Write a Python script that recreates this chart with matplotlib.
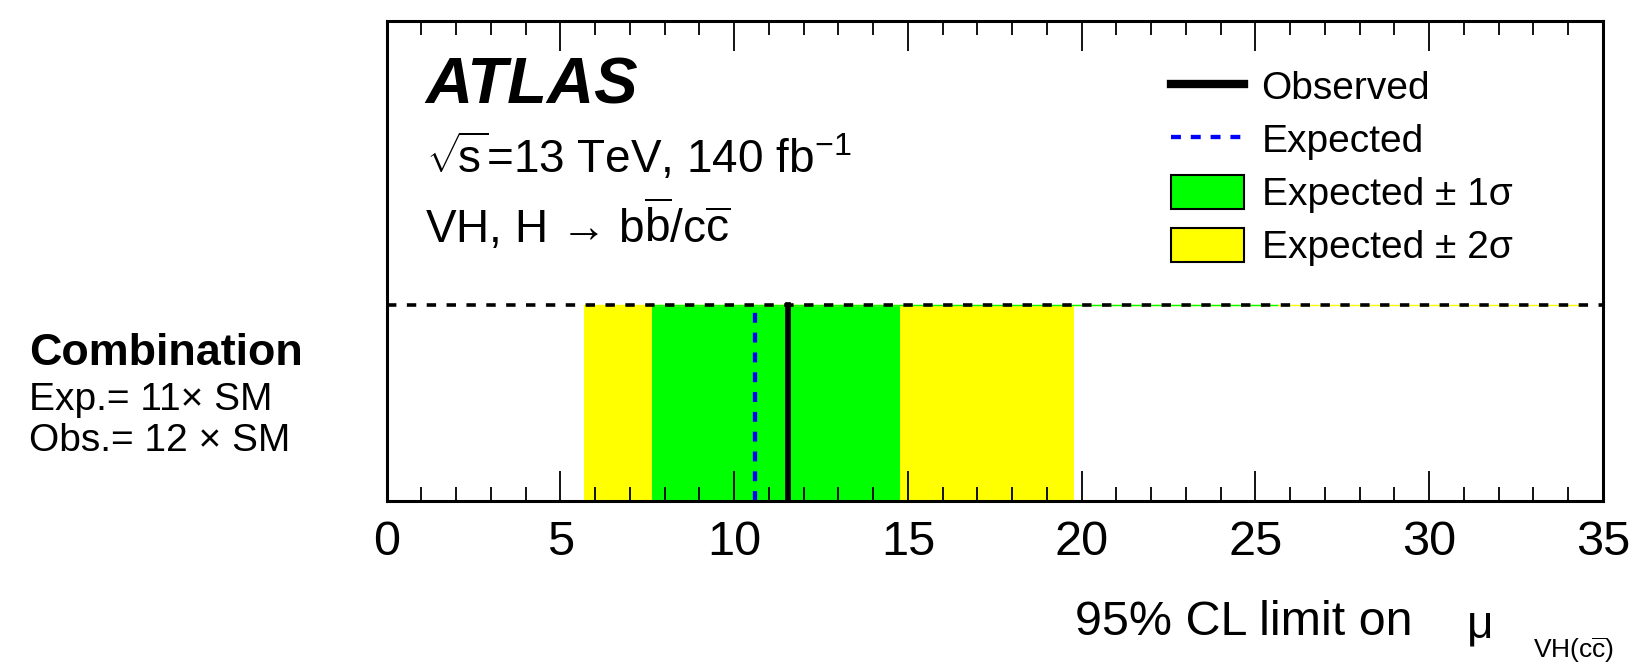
import matplotlib
matplotlib.use("Agg")
import matplotlib.pyplot as plt
from matplotlib import font_manager
from matplotlib.ticker import MultipleLocator

# 95% CL limits on mu_VH(cc)
obs_limit = 11.55
exp_limit = 10.60
band_1sigma = [7.63, 14.76]
band_2sigma = [5.68, 19.77]
# band edges that leak along the y=1 line in the original
edge_1sigma = [7.63, 25.62]
edge_2sigma = [5.68, 34.34]

xticks = [0, 5, 10, 15, 20, 25, 30, 35]
labels = ["Observed", "Expected", "Expected ± 1σ", "Expected ± 2σ"]
exp_text = "Exp.= 11× SM"
obs_text = "Obs.= 12 × SM"

W, H = 1630, 667
plt.rcParams["font.family"] = ["Liberation Sans", "DejaVu Sans"]
plt.rcParams["mathtext.fontset"] = "custom"
plt.rcParams["mathtext.rm"] = "Liberation Sans"
plt.rcParams["mathtext.it"] = "Liberation Sans:italic"
plt.rcParams["mathtext.bf"] = "Liberation Sans:bold"

# narrow face for the squeezed subscript, if it is there
try:
    font_manager.findfont("Liberation Sans Narrow", fallback_to_default=False)
    sub_family, sub_size = "Liberation Sans Narrow", 24
except Exception:
    sub_family, sub_size = "Liberation Sans", 19


def px(x, y):
    # pixel position -> figure fraction
    return x / W, 1 - y / H


fig = plt.figure(figsize=(W / 100, H / 100), dpi=100)
ax = fig.add_axes([386.7 / W, 1 - 501 / H, (1603 - 386.7) / W, (501 - 20.7) / H])

yel = ax.fill_betweenx([0, 1], band_2sigma[0], band_2sigma[1], color="#ffff00", lw=0)
grn = ax.fill_betweenx([0, 1], band_1sigma[0], band_1sigma[1], color="#00ff00", lw=0)
ax.plot(edge_2sigma, [1, 1], color="#ffff00", lw=1.0)
ax.plot(edge_1sigma, [1, 1], color="#00ff00", lw=1.0)
ax.axhline(1, color="black", lw=2.6, ls=(0, (2.6, 2.9)))
exp_line, = ax.plot([exp_limit, exp_limit], [0, 1], color="#0000ff", lw=3.1, ls=(0, (2.3, 2.3)))
obs_line, = ax.plot([obs_limit, obs_limit], [0, 1], color="black", lw=4.1)

ax.set_xlim(0, 35)
ax.set_ylim(0, 2.45)
ax.set_xticks(xticks)
ax.xaxis.set_minor_locator(MultipleLocator(1))
ax.tick_params(axis="x", which="both", direction="in", top=True, labelsize=35, pad=13.5)
ax.tick_params(axis="x", which="major", length=21.6, width=1.3)
ax.tick_params(axis="x", which="minor", length=10, width=1.3)
ax.tick_params(axis="y", left=False, labelleft=False)
for s in ax.spines.values():
    s.set_linewidth(2.2)

leg = ax.legend([obs_line, exp_line, grn, yel], labels, loc="upper left",
                bbox_to_anchor=px(1171, 69), bbox_transform=fig.transFigure,
                frameon=False, fontsize=28, handlelength=1.88, handleheight=0.98,
                handletextpad=0.45, labelspacing=0.37, borderpad=0, borderaxespad=0)
for h in leg.legend_handles[2:]:
    h.set_edgecolor("black")
    h.set_linewidth(1.5)
leg.get_lines()[0].set_linewidth(6)

fig.text(*px(425, 103.3), "ATLAS", fontsize=47, fontweight="bold", fontstyle="italic", va="baseline")
fig.text(*px(426, 173.3), r"$\sqrt{\!\mathrm{s}}$=13 TeV, 140 fb$^{\mathrm{-1}}$", fontsize=33, va="baseline")
fig.text(*px(425, 243.3), r"VH, H → b$\overline{\mathrm{b}}$/c$\overline{\mathrm{c}}$",
         fontsize=33, va="baseline")

fig.text(*px(29, 365), "Combination", fontsize=32.3, fontweight="bold", va="baseline")
fig.text(*px(29, 410), exp_text, fontsize=28, va="baseline")
fig.text(*px(29, 451), obs_text, fontsize=28, va="baseline")

fig.text(*px(1075, 635), "95% CL limit on", fontsize=34.8, va="baseline")
fig.text(*px(1467, 637), "μ", fontsize=33, va="baseline")
fig.text(*px(1533, 658), r"VH(c$\overline{\mathrm{c}}$)", fontsize=sub_size, family=sub_family, va="baseline")

fig.savefig("out.png", dpi=100)
